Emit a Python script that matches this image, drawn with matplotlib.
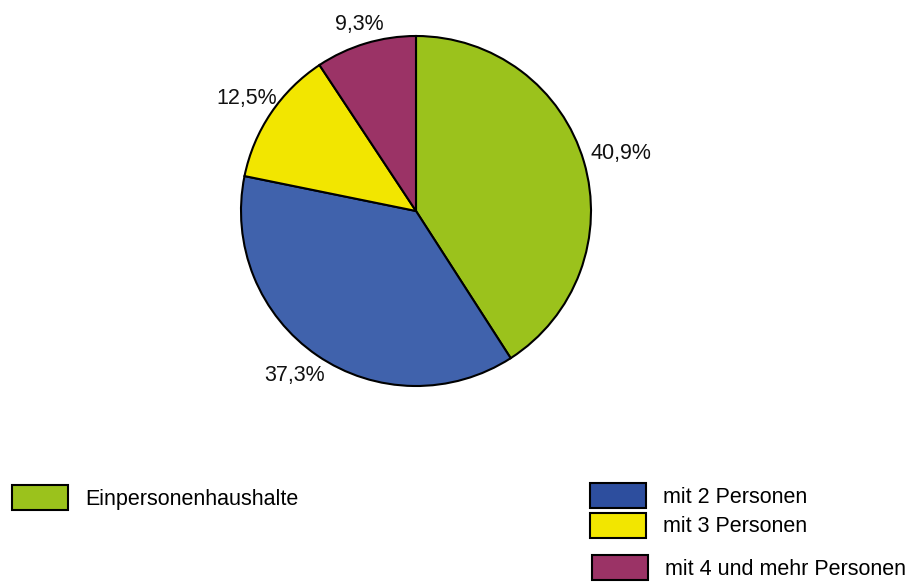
import numpy as np
import matplotlib.pyplot as plt
from matplotlib.patches import Patch

plt.rcParams['font.family'] = ['Liberation Sans', 'DejaVu Sans']

# Haushalte nach Größe (Anteile in %)
categories = ['Einpersonenhaushalte', 'mit 2 Personen', 'mit 3 Personen',
              'mit 4 und mehr Personen']
shares = [40.9, 37.3, 12.5, 9.3]
pie_colors = ['#9BC21C', '#4062AC', '#F2E600', '#9B3366']
legend_colors = ['#9BC21C', '#2D4E9E', '#F2E600', '#9B3366']
label_dist = [1.22, 1.16, 1.17, 1.13]
label_turn = [0, -2.5, 0, 0]  # small angular nudge (deg) for label placement

W, H = 908, 586
fs = 15.5
fig = plt.figure(figsize=(W / 100, H / 100), dpi=100)

# pie axes: centre (416, 211) px, radius 175 px
cx, cy, r = 416, 211, 175
ax = fig.add_axes([(cx - r) / W, (H - cy - r) / H, 2 * r / W, 2 * r / H])
labels = [f'{v:.1f}%'.replace('.', ',') for v in shares]
wedges, texts = ax.pie(shares, colors=pie_colors, startangle=90, counterclock=False,
                       labels=labels,
                       wedgeprops=dict(edgecolor='black', linewidth=1.5),
                       textprops=dict(fontsize=fs, color='#111111'))
for w, t, d, dt in zip(wedges, texts, label_dist, label_turn):
    ang = np.deg2rad((w.theta1 + w.theta2) / 2 + dt)
    t.set_position((d * np.cos(ang), d * np.sin(ang)))
    t.set_ha('center')
    t.set_va('center_baseline')
ax.set_xlim(-1, 1)
ax.set_ylim(-1, 1)
ax.set_aspect('equal')
ax.axis('off')

handles = [Patch(facecolor=c, edgecolor='black', linewidth=1.5, label=l)
           for c, l in zip(legend_colors, categories)]
px = fs * 100 / 72
common = dict(frameon=False, fontsize=fs, handlelength=56 / px, handleheight=30 / px,
              handletextpad=17 / px, labelspacing=5 / px, borderpad=0, borderaxespad=0)
fig.legend(handles=handles[:1], loc='upper left',
           bbox_to_anchor=(12 / W, 1 - 485 / H), **common)
fig.legend(handles=handles[1:3], loc='upper left',
           bbox_to_anchor=(590 / W, 1 - 483 / H), **common)
fig.legend(handles=handles[3:], loc='upper left',
           bbox_to_anchor=(592 / W, 1 - 555 / H), **common)

fig.savefig('out.png', dpi=100)
